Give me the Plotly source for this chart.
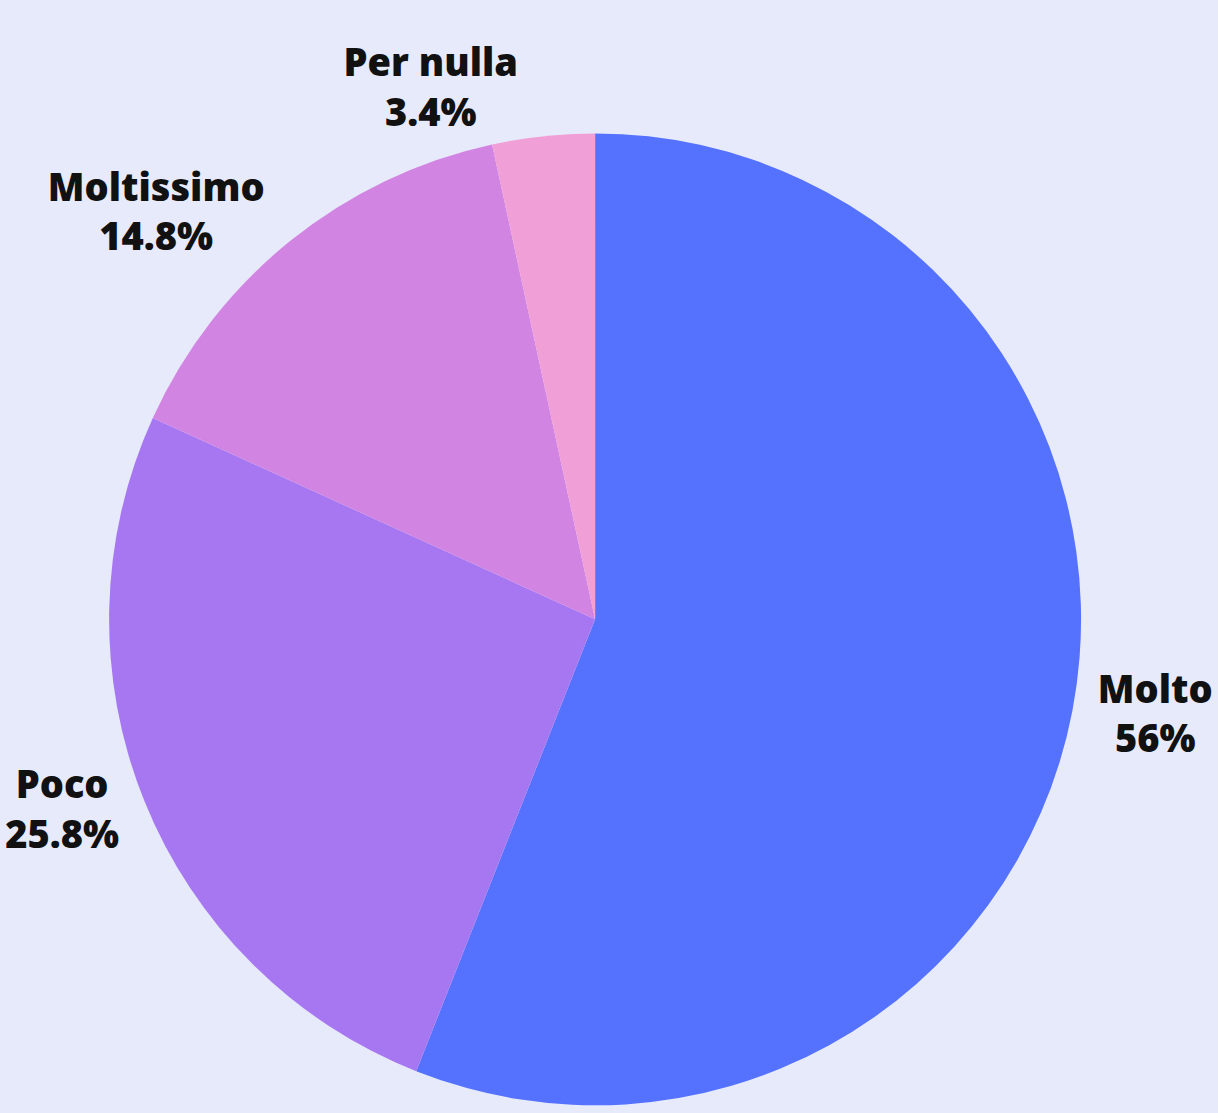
import plotly.graph_objects as go

labels = ["Molto", "Poco", "Moltissimo", "Per nulla"]
values = [56, 25.8, 14.8, 3.4]
colors = ["#5472FE", "#A777F2", "#D284E3", "#F19FD7"]

fig = go.Figure(go.Pie(
    labels=labels,
    values=values,
    sort=False,
    direction="clockwise",
    rotation=0,
    marker=dict(colors=colors, line=dict(width=0)),
    texttemplate="%{label}<br>%{value}%",
    textposition="outside",
    textfont=dict(family="Open Sans", size=38, color="#111111", weight=800),
    showlegend=False,
    domain=dict(x=[0.0895, 0.8941], y=[0.0, 0.88]),
    hoverinfo="skip",
))

fig.update_layout(
    width=1218,
    height=1113,
    margin=dict(l=0, r=0, t=0, b=0),
    paper_bgcolor="#E7EAFB",
    plot_bgcolor="#E7EAFB",
)

fig.write_html(
    "out.html",
    config={"displayModeBar": False},
    post_script="document.body.style.margin='0';document.body.style.padding='0';document.body.style.background='#E7EAFB';",
)
